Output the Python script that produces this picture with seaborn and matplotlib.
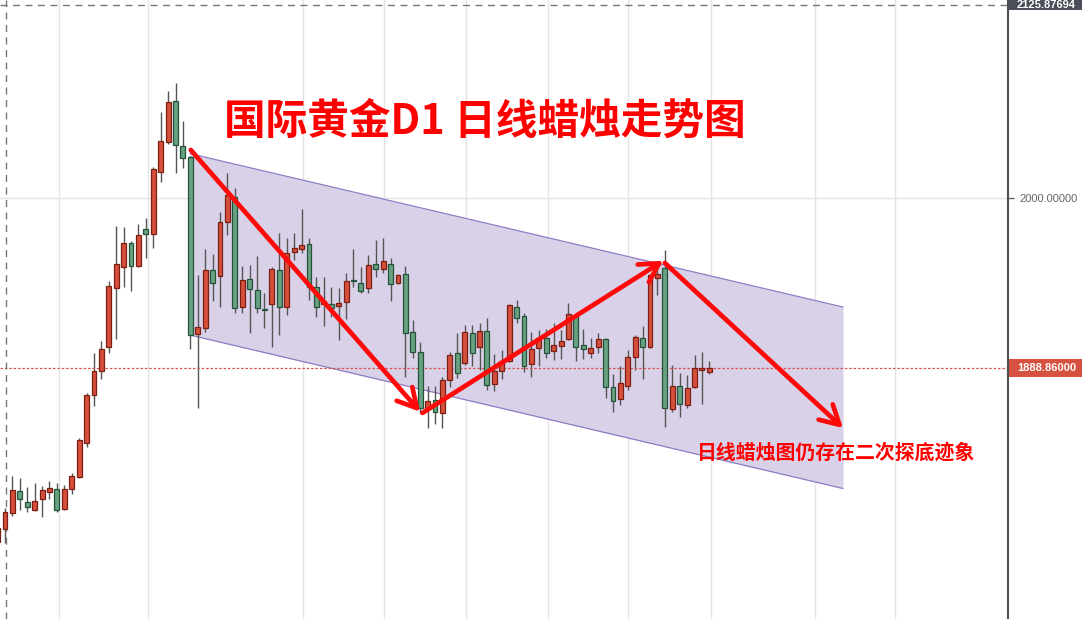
import matplotlib
matplotlib.use('Agg')
import matplotlib.pyplot as plt
import matplotlib.transforms as mtransforms
from matplotlib.patches import Rectangle
import seaborn as sns
import numpy as np
import pandas as pd

# daily gold candles
opens = [1775.1, 1783.6, 1794.1, 1808.5, 1801.3, 1796.1, 1803.2, 1807.8, 1809.8, 1796.7,
         1809.8, 1817.6, 1839.8, 1871.2, 1886.9, 1902.6, 1941.2, 1954.9, 1970.6, 1955.5,
         1979.7, 1976.5, 2017.0, 2036.6, 2063.4, 2034.0, 2026.8, 1911.1, 1915.0, 1952.9,
         1949.0, 1984.3, 2000.7, 1928.7, 1947.0, 1939.9, 1927.4, 1930.7, 1952.9, 1928.7,
         1964.7, 1966.7, 1969.9, 1941.8, 1930.7, 1930.7, 1929.4, 1932.0, 1946.4, 1944.4,
         1941.2, 1956.9, 1953.6, 1956.9, 1944.4, 1950.3, 1912.4, 1899.3, 1862.7, 1867.9,
         1859.5, 1881.0, 1898.7, 1892.1, 1911.7, 1902.6, 1913.1, 1878.4, 1886.9, 1893.4,
         1928.7, 1922.9, 1891.5, 1901.9, 1908.5, 1900.0, 1903.3, 1907.8, 1922.9, 1903.9,
         1898.7, 1902.6, 1907.8, 1876.4, 1868.6, 1877.1, 1896.1, 1908.5, 1902.6, 1947.7,
         1954.2, 1862.1, 1877.1, 1864.7, 1876.4, 1887.6, 1886.3]
highs = [1786.2, 1797.4, 1818.3, 1817.0, 1811.1, 1813.7, 1811.7, 1815.0, 1813.7, 1812.4,
         1820.2, 1843.1, 1872.5, 1898.7, 1906.5, 1945.7, 1981.7, 1981.0, 1971.9, 1983.0,
         1986.9, 2020.3, 2056.2, 2069.9, 2075.2, 2050.3, 2027.5, 1949.7, 1966.7, 1963.4,
         1990.8, 2016.3, 2006.5, 1955.5, 1956.2, 1962.1, 1937.9, 1954.9, 1977.1, 1973.9,
         1977.1, 1992.8, 1973.9, 1948.4, 1948.4, 1941.8, 1941.2, 1951.0, 1966.7, 1954.9,
         1962.7, 1972.5, 1973.9, 1960.8, 1950.3, 1955.5, 1920.2, 1905.9, 1877.1, 1877.1,
         1883.0, 1899.3, 1911.7, 1917.0, 1917.0, 1918.3, 1921.6, 1898.0, 1900.6, 1930.7,
         1933.3, 1924.8, 1912.4, 1913.7, 1914.4, 1918.3, 1913.7, 1931.4, 1924.2, 1914.4,
         1908.5, 1911.7, 1908.5, 1884.9, 1890.2, 1900.6, 1910.4, 1916.3, 1950.3, 1954.9,
         1966.0, 1890.8, 1885.6, 1884.3, 1897.4, 1899.3, 1893.4]
lows = [1773.2, 1774.5, 1792.1, 1796.1, 1794.7, 1795.4, 1791.5, 1803.2, 1794.7, 1796.1,
        1806.5, 1817.0, 1837.2, 1864.0, 1881.7, 1898.7, 1907.8, 1941.8, 1939.2, 1954.9,
        1960.8, 1967.3, 2010.5, 2035.3, 2016.3, 2019.6, 1901.3, 1862.7, 1912.4, 1932.7,
        1928.7, 1975.8, 1924.8, 1924.8, 1911.7, 1924.8, 1915.0, 1902.6, 1910.4, 1923.5,
        1959.5, 1964.0, 1933.3, 1922.2, 1916.3, 1922.2, 1907.2, 1920.9, 1941.8, 1937.9,
        1937.9, 1948.4, 1951.0, 1932.7, 1943.8, 1883.0, 1895.4, 1859.5, 1849.6, 1852.3,
        1849.6, 1876.4, 1882.3, 1890.8, 1890.2, 1887.6, 1874.5, 1873.8, 1881.7, 1893.0,
        1918.3, 1886.3, 1883.0, 1890.2, 1895.4, 1894.1, 1894.8, 1907.2, 1893.4, 1894.8,
        1895.4, 1898.7, 1869.3, 1860.1, 1864.7, 1874.5, 1887.6, 1881.7, 1901.9, 1936.6,
        1850.3, 1860.1, 1856.8, 1862.7, 1876.0, 1865.3, 1884.9]
closes = [1784.3, 1794.7, 1809.1, 1803.2, 1798.0, 1801.9, 1809.1, 1810.4, 1796.1, 1809.8,
          1818.3, 1841.8, 1871.2, 1886.9, 1901.3, 1942.5, 1956.9, 1970.6, 1955.5, 1975.8,
          1976.5, 2019.0, 2037.3, 2062.8, 2034.6, 2026.1, 1910.4, 1915.7, 1952.9, 1944.4,
          1984.3, 2002.0, 1928.1, 1946.4, 1940.5, 1928.1, 1926.8, 1953.6, 1928.7, 1964.0,
          1967.3, 1969.3, 1941.8, 1928.7, 1932.7, 1928.1, 1931.4, 1945.7, 1945.7, 1939.2,
          1956.2, 1953.6, 1958.8, 1943.8, 1949.7, 1911.7, 1899.3, 1862.7, 1867.3, 1860.1,
          1881.0, 1897.4, 1885.6, 1912.4, 1898.7, 1913.1, 1877.8, 1886.9, 1893.4, 1930.1,
          1921.6, 1890.2, 1901.3, 1908.5, 1898.7, 1903.9, 1906.5, 1924.2, 1902.6, 1901.3,
          1901.9, 1907.8, 1876.4, 1867.3, 1879.1, 1896.1, 1909.1, 1902.6, 1949.7, 1950.3,
          1862.7, 1877.1, 1865.3, 1875.8, 1888.9, 1888.9, 1888.86]

# descending channel (day, lower edge, upper edge)
channel_days = [25.95, 114.03]
channel_low = [1910.4, 1810.1]
channel_high = [2029.0, 1928.7]

# hand drawn arrows: (start, tip)
arrows = [((26.05, 2031.4), (56.98, 1860.3)),
          ((57.3, 1859.5), (89.79, 1959.0)),
          ((90.0, 1957.5), (114.03, 1849.6))]

crosshair_price = 2125.87694
grid_days = [8.24, 20.25, 41.23, 52.16, 63.14, 74.2, 85.07, 96.19, 110.25, 121.04]

df = pd.DataFrame({'open': opens, 'high': highs, 'low': lows, 'close': closes})
df['day'] = np.arange(len(df))
df['up'] = df['close'] >= df['open']

sns.set_style('white')
plt.rcParams['font.family'] = ['Noto Sans CJK SC', 'DejaVu Sans']

fig = plt.figure(figsize=(10.84, 6.19), dpi=100)
ax = fig.add_axes([0, 0, 1008 / 1084, 1])
ax.set_xlim(0.326, 136.28)
ax.set_ylim(1724.8, 2129.4)

# grid
ax.set_xticks(grid_days)
ax.set_xticklabels([])
ax.tick_params(axis='x', length=0)
ax.grid(axis='x', color='#e4e4e4', lw=1, zorder=0)
ax.axhline(2000, color='#e4e4e4', lw=1, zorder=0)

# channel
ax.fill_between(channel_days, channel_low, channel_high, color='#d8d1e8', lw=0, zorder=1)
ax.plot(channel_days, channel_high, color='#8f7cc4', lw=0.9, zorder=1.5)
ax.plot(channel_days, channel_low, color='#8f7cc4', lw=0.9, zorder=1.5)

# candles: red = up, green = down
fill = np.where(df['up'], '#d4503c', '#67a282')
edge = np.where(df['up'], '#7d1e12', '#27523a')
bottoms = np.minimum(df['open'], df['close'])
heights = np.maximum(np.abs(df['close'] - df['open']), 0.5)
ax.vlines(df['day'], df['low'], df['high'], color='#555555', lw=1, zorder=2)
ax.bar(df['day'], heights, bottom=bottoms, width=0.66, color=fill,
       edgecolor=edge, linewidth=0.9, zorder=3)

# last price + crosshair lines
last = closes[-1]
ax.axhline(last, color='#d9534f', ls=(0, (2, 1.5)), lw=0.9, zorder=2.5)
ax.axhline(crosshair_price, color='#777777', ls=(0, (5, 4)), lw=1, zorder=2.5)
ax.axvline(1.1, color='#777777', ls=(0, (5, 4)), lw=1, zorder=2.5)

# arrows
for start, tip in arrows:
    ax.annotate('', xy=tip, xytext=start, zorder=6,
                arrowprops=dict(arrowstyle='->,head_length=0.9,head_width=0.5',
                                color='#ff0a0a', lw=3.4, shrinkA=0, shrinkB=0,
                                mutation_scale=15, capstyle='round'))

ax.text(0.481, 0.803, '国际黄金D1 日线蜡烛走势图', transform=ax.transAxes,
        ha='center', va='center', color='#ff0000', fontsize=30, fontweight='heavy', zorder=7)
ax.text(0.829, 0.270, '日线蜡烛图仍存在二次探底迹象', transform=ax.transAxes,
        ha='center', va='center', color='#ff0000', fontsize=14.3, fontweight='bold', zorder=7)

# right price scale
for s in ['left', 'top', 'bottom']:
    ax.spines[s].set_visible(False)
ax.spines['right'].set_color('#4d4f55')
ax.spines['right'].set_linewidth(1.5)
ax.yaxis.tick_right()
ax.set_yticks([2000])
ax.set_yticklabels(['2000.00000'], family='Liberation Sans')
ax.tick_params(axis='y', length=4, width=1, color='#666666', labelcolor='#666666',
               labelsize=8, pad=4)

trans = mtransforms.blended_transform_factory(ax.transAxes, ax.transData)
box_w = 74 / 1008
ax.add_patch(Rectangle((1.0, crosshair_price - 3.0), box_w, 14, transform=trans,
                       clip_on=False, fc='#4a4e59', ec='none'))
ax.text(1.0 + 9 / 1008, crosshair_price, '2125.87694', transform=trans, ha='left',
        va='center', color='white', fontsize=8, fontweight='bold', family='Liberation Sans')
ax.add_patch(Rectangle((1.0, last - 5.9), box_w, 11.8, transform=trans,
                       clip_on=False, fc='#d6513f', ec='none'))
ax.text(1.0 + 9 / 1008, last, '1888.86000', transform=trans, ha='left',
        va='center', color='white', fontsize=8, fontweight='bold', family='Liberation Sans')

fig.savefig('out.png', dpi=100)
